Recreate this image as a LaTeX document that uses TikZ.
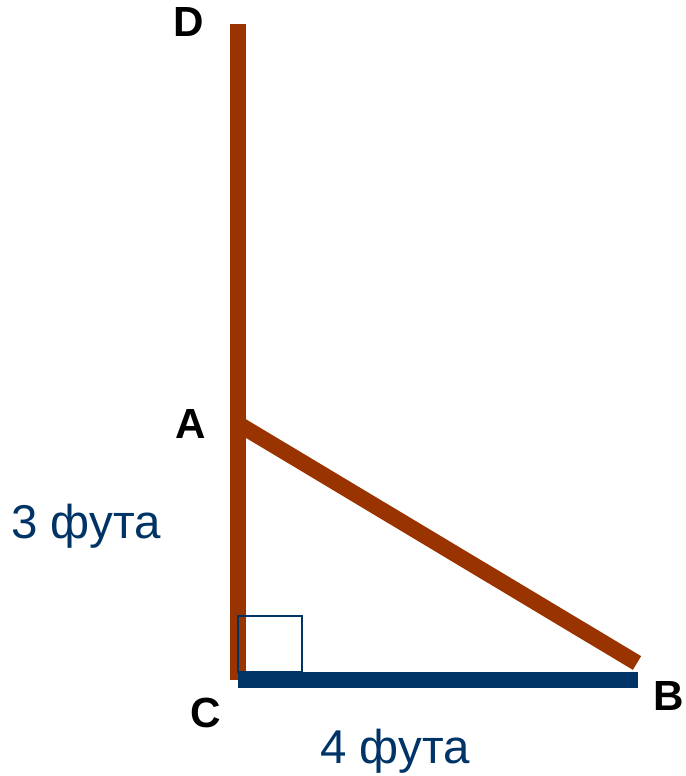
\documentclass[tikz,border=0pt]{standalone}
\usepackage{fontspec}
\setmainfont{Liberation Sans}
\usepackage{xcolor}
\usetikzlibrary{positioning,calc}
\definecolor{polecolor}{RGB}{153, 51, 0}
\definecolor{groundcolor}{RGB}{0, 51, 102}

\begin{document}
\begin{tikzpicture}[x=0.02cm,y=-0.02cm,every node/.style={inner sep=0pt,anchor=base}]
\useasboundingbox[fill=white](0,0) rectangle (685,776);
\coordinate (D) at (238,24); \coordinate (C) at (238,680);
\coordinate (A) at (240,425); \coordinate (B) at (637,663);
\coordinate (E) at (638,680);
\draw[polecolor,line width=0.32cm](D)--(C);
\draw[polecolor,line width=0.32cm](A)--(B);
\draw[groundcolor,line width=0.32cm](C)--(E);
\draw[groundcolor,line width=1.1pt](238,672) rectangle (302,616);
\node[font=\fontsize{24}{27}\bfseries\selectfont](labD) at (189,37){D};
\node[font=\fontsize{24}{27}\bfseries\selectfont](labA) at (191,438){A};
\node[font=\fontsize{24}{27}\bfseries\selectfont](labC) at (206,727){C};
\node[font=\fontsize{24}{27}\bfseries\selectfont](labB) at (669,710){B};
\node[font=\fontsize{27}{30}\selectfont,text=groundcolor](side) at (86,538){3 фута};
\node[font=\fontsize{27}{30}\selectfont,text=groundcolor](base) at (395,763){4 фута};
\end{tikzpicture}
\end{document}
